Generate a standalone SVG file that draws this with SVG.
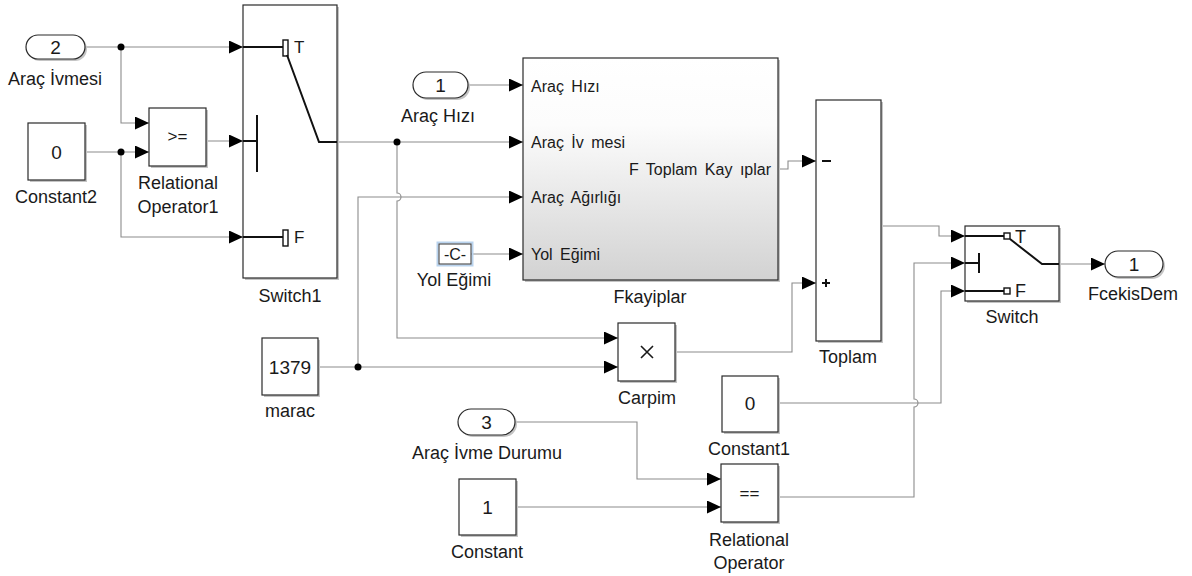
<svg xmlns="http://www.w3.org/2000/svg" width="1192" height="576" viewBox="0 0 1192 576">
  <defs>
    <marker id="arr" markerUnits="userSpaceOnUse" markerWidth="14" markerHeight="13" refX="14" refY="6.5" orient="auto">
      <path d="M0,0 L14,6.5 L0,13 z" fill="#000"/>
    </marker>
    <linearGradient id="subsys" x1="0" y1="0" x2="0" y2="1">
      <stop offset="0" stop-color="#ffffff"/>
      <stop offset="0.3" stop-color="#fcfcfc"/>
      <stop offset="1" stop-color="#d2d2d2"/>
    </linearGradient>
    <style>
      .blk { fill: #fff; stroke: #2a2a2a; stroke-width: 1.2; }
      .shd { fill: #c4c4c4; }
      .sig { fill: none; stroke: #8c8c8c; stroke-width: 1.1; marker-end: url(#arr); }
      .dot { fill: #000; }
      .sw { fill: none; stroke: #111; stroke-width: 2; }
      .swb { fill: #fff; stroke: #111; stroke-width: 1.4; }
      text { font-family: "Liberation Sans", Arial, sans-serif; fill: #1a1a1a; }
      .lbl { font-size: 18px; text-anchor: middle; }
      .val { font-size: 19px; text-anchor: middle; }
      .port { font-size: 16px; word-spacing: 3px; }
      .tf { font-size: 17px; }
    </style>
  </defs>
  <rect width="1192" height="576" fill="#fff"/>

  <!-- signal lines -->
  <g id="connectors">
    <path class="sig" d="M85,47 H243"/>
    <path class="sig" d="M121,47 V123 H149"/>
    <path class="sig" d="M85,152 H149"/>
    <path class="sig" d="M121,152 V237 H243"/>
    <path class="sig" d="M206,141 H243"/>
    <path class="sig" d="M468,85 H523"/>
    <path class="sig" d="M337,142 H523"/>
    <path class="sig" d="M397,142 V193 a4,4 0 0 1 0,8 V338 H618"/>
    <path class="sig" d="M318,367 H618"/>
    <path class="sig" d="M358,367 V197 H523"/>
    <path class="sig" d="M471,254 H523"/>
    <path class="sig" d="M778,169 H788 V161 H816"/>
    <path class="sig" d="M675,352 H792 V283 H816"/>
    <path class="sig" d="M881,226 H939 V236 H965"/>
    <path class="sig" d="M778,497 H914 V407 a4,4 0 0 0 0,-8 V263 H965"/>
    <path class="sig" d="M778,403 H941 V291 H965"/>
    <path class="sig" d="M1059,264 H1105"/>
    <path class="sig" d="M515,422 H637 V479 H721"/>
    <path class="sig" d="M516,507 H721"/>
    <circle class="dot" cx="121" cy="47" r="3.5"/>
    <circle class="dot" cx="121" cy="152" r="3.5"/>
    <circle class="dot" cx="397" cy="142" r="3.5"/>
    <circle class="dot" cx="358" cy="367" r="3.5"/>
  </g>

  <!-- Inport 2 -->
  <g id="in_arac_ivmesi">
    <rect class="shd" x="28" y="37" width="59" height="24" rx="12"/>
    <rect class="blk" x="26" y="35" width="59" height="24" rx="12"/>
    <text class="val" x="55.5" y="54">2</text>
    <text class="lbl" x="55" y="85">Araç İvmesi</text>
  </g>

  <!-- Constant2 -->
  <g id="constant2">
    <rect class="shd" x="30" y="125" width="57" height="57"/>
    <rect class="blk" x="28" y="123" width="57" height="57"/>
    <text class="val" x="56.5" y="159">0</text>
    <text class="lbl" x="56" y="203">Constant2</text>
  </g>

  <!-- Relational Operator1 -->
  <g id="relop1">
    <rect class="shd" x="151" y="110" width="57" height="58"/>
    <rect class="blk" x="149" y="108" width="57" height="58"/>
    <text class="val" x="177.5" y="142" style="font-size:17px">&gt;=</text>
    <text class="lbl" x="178" y="189">Relational</text>
    <text class="lbl" x="178" y="213">Operator1</text>
  </g>

  <!-- Switch1 -->
  <g id="switch1">
    <rect class="shd" x="245" y="7" width="94" height="273"/>
    <rect class="blk" x="243" y="5" width="94" height="273"/>
    <path class="sw" d="M243,47 H283"/>
    <rect class="swb" x="283" y="40" width="5" height="16"/>
    <path class="sw" d="M287,55 L319,142 H337"/>
    <path class="sw" d="M243,141 H257 M257,115 V172"/>
    <path class="sw" d="M243,237 H283"/>
    <rect class="swb" x="283" y="230" width="5" height="16"/>
    <text class="tf" x="294" y="53">T</text>
    <text class="tf" x="294" y="243">F</text>
    <text class="lbl" x="290" y="302">Switch1</text>
  </g>

  <!-- Inport 1 -->
  <g id="in_arac_hizi">
    <rect class="shd" x="415" y="74" width="55" height="26" rx="13"/>
    <rect class="blk" x="413" y="72" width="55" height="26" rx="13"/>
    <text class="val" x="440.5" y="92">1</text>
    <text class="lbl" x="438" y="122">Araç Hızı</text>
  </g>

  <!-- Yol Egimi constant -->
  <g id="yol_egimi">
    <rect x="437.5" y="242.5" width="35" height="23" fill="none" stroke="#b9d3ee" stroke-width="2"/>
    <rect x="439" y="244" width="32" height="20" fill="#fff" stroke="#333" stroke-width="1"/>
    <text x="455" y="260" style="font-size:16px;text-anchor:middle">-C-</text>
    <text class="lbl" x="454" y="286">Yol Eğimi</text>
  </g>

  <!-- Fkayiplar subsystem -->
  <g id="fkayiplar">
    <rect class="shd" x="525" y="60" width="255" height="222"/>
    <rect x="523" y="58" width="255" height="222" fill="url(#subsys)" stroke="#2a2a2a" stroke-width="1.2"/>
    <text class="port" x="531" y="92">Araç Hızı</text>
    <text class="port" x="531" y="148">Araç İv mesi</text>
    <text class="port" x="531" y="203">Araç Ağırlığı</text>
    <text class="port" x="531" y="260">Yol Eğimi</text>
    <text class="port" x="771" y="175" text-anchor="end">F Toplam Kay ıplar</text>
    <text class="lbl" x="650" y="303">Fkayiplar</text>
  </g>

  <!-- marac constant -->
  <g id="marac">
    <rect class="shd" x="264" y="340" width="56" height="57"/>
    <rect class="blk" x="262" y="338" width="56" height="57"/>
    <text class="val" x="290" y="374">1379</text>
    <text class="lbl" x="290" y="417">marac</text>
  </g>

  <!-- Carpim product -->
  <g id="carpim">
    <rect class="shd" x="620" y="325" width="57" height="58"/>
    <rect class="blk" x="618" y="323" width="57" height="58"/>
    <path d="M641,346 L653,358 M653,346 L641,358" stroke="#1a1a1a" stroke-width="1.6"/>
    <text class="lbl" x="647" y="404">Carpim</text>
  </g>

  <!-- Toplam sum -->
  <g id="toplam">
    <rect class="shd" x="818" y="102" width="65" height="241"/>
    <rect class="blk" x="816" y="100" width="65" height="241"/>
    <path d="M822,161 H831" stroke="#111" stroke-width="2"/>
    <path d="M822,283 H830 M826,279 V287" stroke="#111" stroke-width="2"/>
    <text class="lbl" x="848" y="363">Toplam</text>
  </g>

  <!-- Switch -->
  <g id="switch">
    <rect class="shd" x="967" y="228" width="94" height="75"/>
    <rect class="blk" x="965" y="226" width="94" height="75"/>
    <path class="sw" d="M965,236 H1004"/>
    <rect class="swb" x="1004" y="233" width="6" height="6"/>
    <path class="sw" d="M1010,239 L1042,264 H1059"/>
    <path class="sw" d="M965,263 H979 M979,253 V273"/>
    <path class="sw" d="M965,291 H1004"/>
    <rect class="swb" x="1004" y="288" width="6" height="6"/>
    <text class="tf" x="1015" y="243" style="font-size:18px">T</text>
    <text class="tf" x="1015" y="297" style="font-size:18px">F</text>
    <text class="lbl" x="1012" y="323">Switch</text>
  </g>

  <!-- Outport 1 -->
  <g id="out_fcekisdem">
    <rect class="shd" x="1107" y="253" width="58" height="26" rx="13"/>
    <rect class="blk" x="1105" y="251" width="58" height="26" rx="13"/>
    <text class="val" x="1134" y="271">1</text>
    <text class="lbl" x="1133" y="300">FcekisDem</text>
  </g>

  <!-- Constant1 -->
  <g id="constant1">
    <rect class="shd" x="724" y="378" width="56" height="56"/>
    <rect class="blk" x="722" y="376" width="56" height="56"/>
    <text class="val" x="750" y="410">0</text>
    <text class="lbl" x="749" y="455">Constant1</text>
  </g>

  <!-- Inport 3 -->
  <g id="in_arac_ivme_durumu">
    <rect class="shd" x="460" y="411" width="57" height="26" rx="13"/>
    <rect class="blk" x="458" y="409" width="57" height="26" rx="13"/>
    <text class="val" x="486.5" y="429">3</text>
    <text class="lbl" x="487" y="459">Araç İvme Durumu</text>
  </g>

  <!-- Constant -->
  <g id="constant">
    <rect class="shd" x="461" y="481" width="57" height="56"/>
    <rect class="blk" x="459" y="479" width="57" height="56"/>
    <text class="val" x="487.5" y="514">1</text>
    <text class="lbl" x="487" y="558">Constant</text>
  </g>

  <!-- Relational Operator -->
  <g id="relop">
    <rect class="shd" x="723" y="466" width="57" height="58"/>
    <rect class="blk" x="721" y="464" width="57" height="58"/>
    <text class="val" x="749.5" y="499" style="font-size:17px">==</text>
    <text class="lbl" x="749" y="546">Relational</text>
    <text class="lbl" x="749" y="569">Operator</text>
  </g>
</svg>
